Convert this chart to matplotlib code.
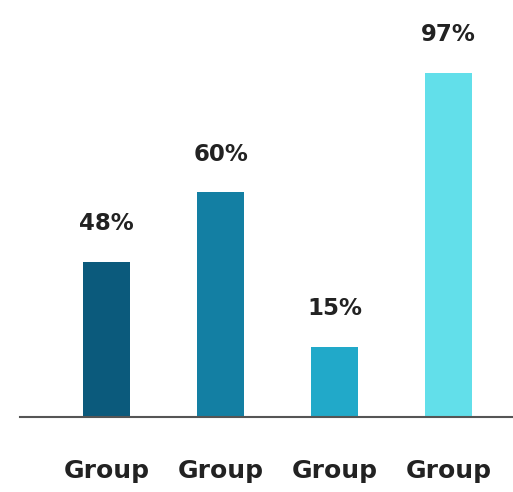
import matplotlib
matplotlib.use("Agg")
import matplotlib.pyplot as plt

categories = ["Group", "Group", "Group", "Group"]
value_labels = ["48%", "60%", "15%", "97%"]
bar_heights = [43.7, 63.4, 19.8, 97.0]  # heights as drawn in the picture
colors = ["#0b5a7c", "#137fa3", "#21a9c9", "#62dfea"]

W, H = 513, 492
fig = plt.figure(figsize=(W / 100, H / 100), dpi=100)
ax = fig.add_axes([20 / W, (H - 417) / H, 493 / W, 417 / H])

x = list(range(len(categories)))
ax.bar(x, bar_heights, width=0.41, color=colors, zorder=2)

for xi, h, lab in zip(x, bar_heights, value_labels):
    ax.text(xi, h + 7.5, lab, ha="center", va="bottom", fontsize=16.5,
            fontweight="bold", family="DejaVu Sans", color="#222222")

ax.set_xlim(-0.76, -0.76 + 493 / 114)
ax.set_ylim(0, 97 * 417 / 344)
for s in ["top", "right", "left"]:
    ax.spines[s].set_visible(False)
ax.spines["bottom"].set_color("#555555")
ax.spines["bottom"].set_linewidth(1.5)
ax.set_yticks([])
ax.set_xticks(x)
ax.set_xticklabels(categories, fontsize=18, fontweight="bold", family="DejaVu Sans", color="#222222")
ax.tick_params(axis="x", length=0, pad=30)

fig.savefig("out.png", dpi=100)
